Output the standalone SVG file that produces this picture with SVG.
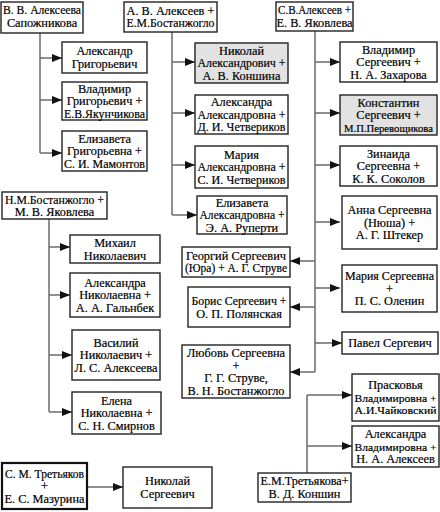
<svg xmlns="http://www.w3.org/2000/svg" width="440" height="512" viewBox="0 0 440 512">
<style>
.b{fill:#fff;stroke:#222;stroke-width:1.4}
.g{fill:#e2e2e2;stroke:#222;stroke-width:1.4}
.k{fill:#fff;stroke:#111;stroke-width:2.2}
text{font-family:"Liberation Serif","Times New Roman",serif;font-size:12.3px;fill:#000;stroke:#000;stroke-width:0.2;text-anchor:middle}
text.s{font-size:11.2px}
text.xs{font-size:10.4px}
.c path{fill:none;stroke:#6a6a6a;stroke-width:1.5}
.a{marker-end:url(#ah)}
</style>
<defs>
<marker id="ah" markerUnits="userSpaceOnUse" markerWidth="10" markerHeight="8" refX="10" refY="4" orient="auto">
<path d="M0,0 L10,4 L0,8 z" fill="#111"/>
</marker>
</defs>
<rect width="440" height="512" fill="#fff"/>
<g class="c" id="connectors">
<path d="M40 33 V153"/>
<path class="a" d="M40 58 H62"/>
<path class="a" d="M40 100 H62"/>
<path class="a" d="M40 153 H62"/>
<path d="M172 32 V215"/>
<path class="a" d="M172 62 H195"/>
<path class="a" d="M172 113 H195"/>
<path class="a" d="M172 165 H195"/>
<path class="a" d="M172 215 H197"/>
<path d="M315 31 V372"/>
<path class="a" d="M315 62 H340"/>
<path class="a" d="M315 113 H340"/>
<path class="a" d="M315 165 H340"/>
<path class="a" d="M315 222 H340"/>
<path class="a" d="M315 288 H340"/>
<path class="a" d="M315 343 H342"/>
<path class="a" d="M315 261 H290"/>
<path class="a" d="M315 307 H290"/>
<path class="a" d="M315 372 H290"/>
<path d="M49 219 V412"/>
<path class="a" d="M49 247 H70"/>
<path class="a" d="M49 295 H70"/>
<path class="a" d="M49 355 H72"/>
<path class="a" d="M49 412 H72"/>
<path class="a" d="M87 487 H123"/>
<path d="M307 473 V395"/>
<path class="a" d="M307 395 H352"/>
<path class="a" d="M307 446 H352"/>
</g>
<g id="p1"><rect class="b" x="1" y="2" width="82" height="31"/><text x="42" y="14" textLength="78" lengthAdjust="spacingAndGlyphs">В. В. Алексеева</text><text x="42" y="27">Сапожникова</text></g>
<g id="p2"><rect class="b" x="124" y="2" width="93" height="30"/><text x="170.5" y="14.5">А. В. Алексеев +</text><text x="170.5" y="27" textLength="88" lengthAdjust="spacingAndGlyphs">Е.М.Бостанжогло</text></g>
<g id="p3"><rect class="b" x="276" y="2" width="77" height="29"/><text x="314.5" y="14" textLength="73" lengthAdjust="spacingAndGlyphs">С.В.Алексеев +</text><text x="314.5" y="26.5">Е. В. Яковлева</text></g>
<g id="c11"><rect class="b" x="62" y="42" width="85" height="31"/><text x="104.5" y="55">Александр</text><text x="104.5" y="67.5">Григорьевич</text></g>
<g id="c12"><rect class="b" x="62" y="82" width="85" height="38"/><text x="104.5" y="92.5">Владимир</text><text x="104.5" y="105">Григорьевич +</text><text x="104.5" y="117.5" textLength="81" lengthAdjust="spacingAndGlyphs">Е.В.Якунчикова</text></g>
<g id="c13"><rect class="b" x="62" y="131" width="85" height="40"/><text x="104.5" y="142.5">Елизавета</text><text x="104.5" y="155">Григорьевна +</text><text x="104.5" y="167.5" textLength="81" lengthAdjust="spacingAndGlyphs">С. И. Мамонтов</text></g>
<g id="c21"><rect class="g" x="195" y="43" width="93" height="40"/><text x="241.5" y="54.5">Николай</text><text x="241.5" y="67" textLength="88" lengthAdjust="spacingAndGlyphs">Александрович +</text><text x="241.5" y="79.5">А. В. Коншина</text></g>
<g id="c22"><rect class="b" x="195" y="95" width="93" height="39"/><text x="241.5" y="106">Александра</text><text x="241.5" y="118.5" textLength="88" lengthAdjust="spacingAndGlyphs">Александровна +</text><text x="241.5" y="131" textLength="88" lengthAdjust="spacingAndGlyphs">Д. И. Четвериков</text></g>
<g id="c23"><rect class="b" x="195" y="146" width="93" height="42"/><text x="241.5" y="158.5">Мария</text><text x="241.5" y="171" textLength="88" lengthAdjust="spacingAndGlyphs">Александровна +</text><text x="241.5" y="183.5" textLength="88" lengthAdjust="spacingAndGlyphs">С. И. Четвериков</text></g>
<g id="c24"><rect class="b" x="197" y="196" width="90" height="38"/><text x="242" y="206.5">Елизавета</text><text x="242" y="219" textLength="85" lengthAdjust="spacingAndGlyphs">Александровна +</text><text x="242" y="231.5">Э. А. Руперти</text></g>
<g id="c31"><rect class="b" x="340" y="42" width="97" height="40"/><text x="388.5" y="53.5">Владимир</text><text x="388.5" y="66">Сергеевич +</text><text x="388.5" y="78.5">Н. А. Захарова</text></g>
<g id="c32"><rect class="g" x="340" y="95" width="97" height="40"/><text x="388.5" y="106.5">Константин</text><text x="388.5" y="119">Сергеевич +</text><text class="xs" x="388.5" y="131.5" textLength="89" lengthAdjust="spacingAndGlyphs">М.П.Перевощикова</text></g>
<g id="c33"><rect class="b" x="340" y="146" width="97" height="40"/><text x="388.5" y="157.5">Зинаида</text><text x="388.5" y="170">Сергеевна +</text><text x="388.5" y="182.5">К. К. Соколов</text></g>
<g id="c34"><rect class="b" x="342" y="196" width="95" height="53"/><text x="389.5" y="214">Анна Сергеевна</text><text x="389.5" y="226.5">(Нюша) +</text><text x="389.5" y="239">А. Г. Штекер</text></g>
<g id="c35"><rect class="b" x="342" y="265" width="95" height="47"/><text x="389.5" y="280" textLength="89" lengthAdjust="spacingAndGlyphs">Мария Сергеевна</text><text x="389.5" y="292.5">+</text><text x="389.5" y="305">П. С. Оленин</text></g>
<g id="c36"><rect class="b" x="342" y="332" width="96" height="22"/><text x="390" y="347">Павел Сергевич</text></g>
<g id="c37"><rect class="b" x="182" y="247" width="108" height="30"/><text x="236" y="259.5" textLength="100" lengthAdjust="spacingAndGlyphs">Георгий Сергеевич</text><text x="236" y="272" textLength="102" lengthAdjust="spacingAndGlyphs">(Юра) + А. Г. Струве</text></g>
<g id="c38"><rect class="b" x="188" y="287" width="102" height="40"/><text x="239" y="305" textLength="95" lengthAdjust="spacingAndGlyphs">Борис Сергеевич +</text><text x="239" y="317.5">О. П. Полянская</text></g>
<g id="c39"><rect class="b" x="182" y="345" width="108" height="53"/><text x="236" y="357">Любовь Сергеевна</text><text x="236" y="369.5">+</text><text x="236" y="382">Г. Г. Струве,</text><text x="236" y="394.5">В. Н. Бостанжогло</text></g>
<g id="p4"><rect class="b" x="2" y="192" width="105" height="27"/><text x="54.5" y="203.5" textLength="99" lengthAdjust="spacingAndGlyphs">Н.М.Бостанжогло +</text><text x="54.5" y="216">М. В. Яковлева</text></g>
<g id="c41"><rect class="b" x="70" y="235" width="90" height="28"/><text x="115" y="247">Михаил</text><text x="115" y="259.5">Николаевич</text></g>
<g id="c42"><rect class="b" x="70" y="273" width="90" height="44"/><text x="115" y="286.5">Александра</text><text x="115" y="299">Николаевна +</text><text x="115" y="311.5">А. А. Гальнбек</text></g>
<g id="c43"><rect class="b" x="72" y="330" width="88" height="50"/><text x="116" y="346.5">Василий</text><text x="116" y="359">Николаевич +</text><text x="116" y="371.5" textLength="83" lengthAdjust="spacingAndGlyphs">Л. С. Алексеева</text></g>
<g id="c44"><rect class="b" x="72" y="392" width="89" height="42"/><text x="116.5" y="404.5">Елена</text><text x="116.5" y="417">Николаевна +</text><text x="116.5" y="429.5">С. Н. Смирнов</text></g>
<g id="p5"><rect class="k" x="2" y="463" width="85" height="46"/><text x="44.5" y="477.5" textLength="79" lengthAdjust="spacingAndGlyphs">С. М. Третьяков</text><text x="44.5" y="490">+</text><text x="44.5" y="502.5">Е. С. Мазурина</text></g>
<g id="c51"><rect class="b" x="123" y="467" width="89" height="41"/><text x="167.5" y="485">Николай</text><text x="167.5" y="497.5">Сергеевич</text></g>
<g id="p6"><rect class="b" x="258" y="473" width="93" height="29"/><text x="304.5" y="485" textLength="88" lengthAdjust="spacingAndGlyphs">Е.М.Третьякова+</text><text x="304.5" y="497.5">В. Д. Коншин</text></g>
<g id="c61"><rect class="b" x="352" y="374" width="87" height="47"/><text x="395.5" y="389">Прасковья</text><text class="s" x="395.5" y="401.5" textLength="82" lengthAdjust="spacingAndGlyphs">Владимировна +</text><text class="s" x="395.5" y="414" textLength="82" lengthAdjust="spacingAndGlyphs">А.И.Чайковский</text></g>
<g id="c62"><rect class="b" x="352" y="426" width="87" height="41"/><text x="395.5" y="438">Александра</text><text class="s" x="395.5" y="450.5" textLength="82" lengthAdjust="spacingAndGlyphs">Владимировна +</text><text x="395.5" y="463">Н. А. Алексеев</text></g>
</svg>
